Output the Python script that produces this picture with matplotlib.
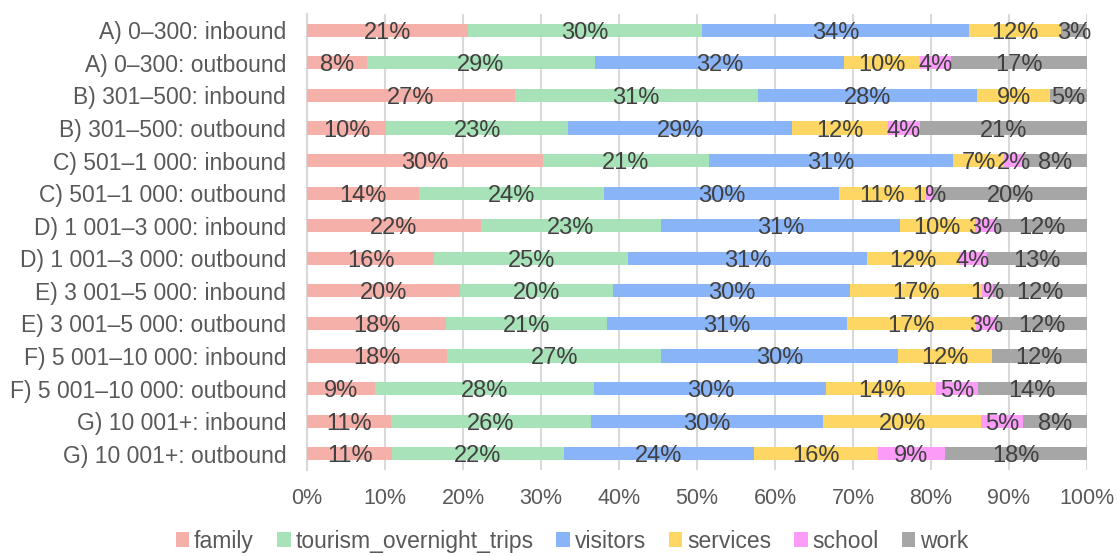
import matplotlib
matplotlib.use("Agg")
import matplotlib.pyplot as plt
import numpy as np

plt.rcParams['font.family'] = ['Liberation Sans', 'DejaVu Sans']

rows = [
    "A) 0–300: inbound", "A) 0–300: outbound",
    "B) 301–500: inbound", "B) 301–500: outbound",
    "C) 501–1 000: inbound", "C) 501–1 000: outbound",
    "D) 1 001–3 000: inbound", "D) 1 001–3 000: outbound",
    "E) 3 001–5 000: inbound", "E) 3 001–5 000: outbound",
    "F) 5 001–10 000: inbound", "F) 5 001–10 000: outbound",
    "G) 10 001+: inbound", "G) 10 001+: outbound",
]

family = [20.6, 7.7, 26.6, 10.1, 30.2, 14.4, 22.3, 16.3, 19.6, 17.8, 18.0, 8.7, 10.8, 10.9]
tourism_overnight_trips = [30.1, 29.2, 31.2, 23.4, 21.4, 23.7, 23.1, 24.9, 19.6, 20.6, 27.4, 28.1, 25.6, 22.0]
visitors = [34.2, 32.0, 28.1, 28.7, 31.2, 30.1, 30.6, 30.6, 30.4, 30.8, 30.4, 29.8, 29.8, 24.4]
services = [11.8, 9.7, 9.4, 12.3, 6.6, 11.1, 9.6, 11.8, 16.9, 16.6, 12.0, 14.1, 20.2, 15.9]
school = [0.0, 4.0, 0.0, 4.1, 2.4, 1.0, 2.8, 3.6, 1.4, 2.6, 0.0, 5.3, 5.4, 8.6]
work = [3.3, 17.4, 4.7, 21.4, 8.2, 19.7, 11.6, 12.8, 12.1, 11.6, 12.2, 14.0, 8.2, 18.2]

series_names = ["family", "tourism_overnight_trips", "visitors", "services", "school", "work"]
series = [family, tourism_overnight_trips, visitors, services, school, work]
colors = ["#F6B0AA", "#A8E2B8", "#8AB4F8", "#FDD663", "#FC9CF9", "#A6A6A6"]

fig = plt.figure(figsize=(11.17, 5.56), dpi=100)
ax = fig.add_axes([0.2749, 0.1547, 0.6982, 0.8201])

y = np.arange(len(rows))
left = np.zeros(len(rows))
text_color = "#404040"
label_fs = 17
tick_fs = 16.5

for name, vals, col in zip(series_names, series, colors):
    vals = np.array(vals, dtype=float)
    ax.barh(y, vals, left=left, height=0.4, color=col, label=name, zorder=3)
    for yi, v, l in zip(y, vals, left):
        if v >= 0.5:
            ax.text(l + v / 2, yi, f"{round(v):d}%", ha="center", va="center_baseline",
                    fontsize=label_fs, color=text_color, zorder=4)
    left += vals

ax.set_xlim(0, 100)
ax.set_ylim(len(rows) - 0.5, -0.5)
ax.set_yticks(y)
ax.set_yticklabels(rows, fontsize=tick_fs, color="#595959")
ax.set_xticks(np.arange(0, 101, 10))
ax.set_xticklabels([f"{t}%" for t in range(0, 101, 10)], fontsize=15.5, color="#595959")
ax.tick_params(axis="y", length=0, pad=15)
ax.tick_params(axis="x", length=0, pad=13)
ax.grid(axis="x", color="#D9D9D9", linewidth=1.5, zorder=0)
for s in ["top", "right", "bottom"]:
    ax.spines[s].set_visible(False)
ax.spines["left"].set_color("#D9D9D9")
ax.spines["left"].set_linewidth(1.5)

fig.legend(loc="lower center", bbox_to_anchor=(0.512, -0.031), ncol=6, frameon=False,
           fontsize=tick_fs, handlelength=0.6, handleheight=0.6, handletextpad=0.2,
           columnspacing=1.0, labelcolor="#595959")

fig.savefig("out.png", dpi=100)
